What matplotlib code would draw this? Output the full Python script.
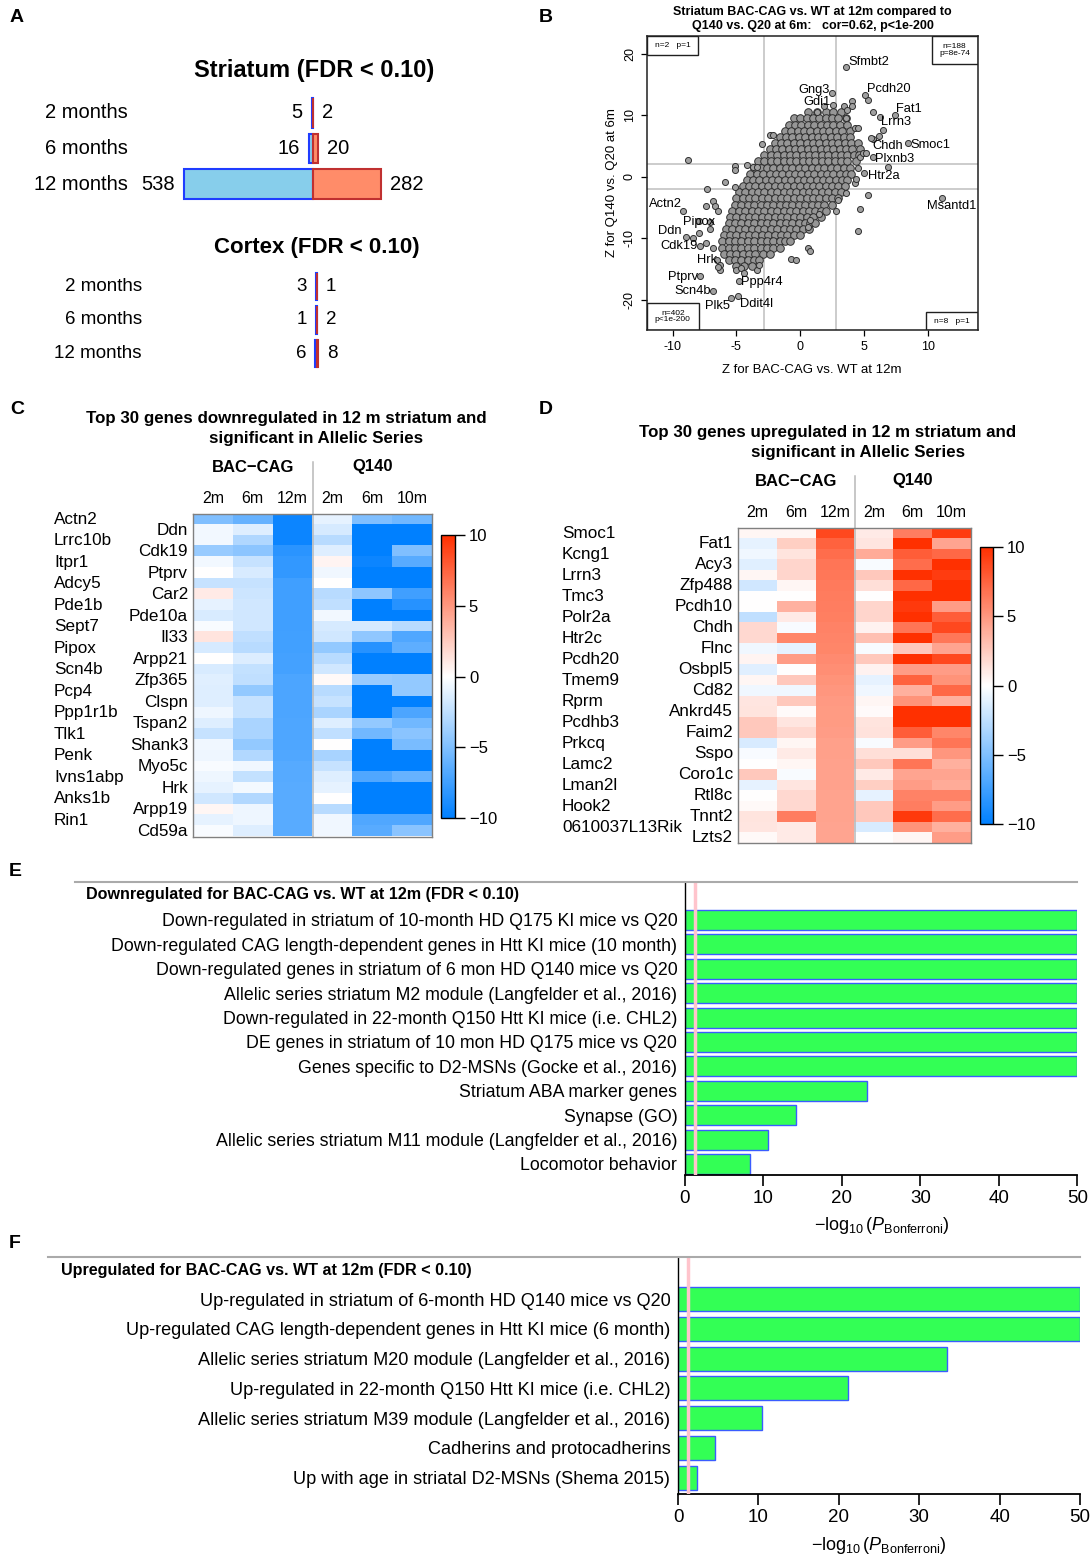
import numpy as np
import matplotlib
matplotlib.use('Agg')
import matplotlib.pyplot as plt
import matplotlib.transforms as mtransforms
from matplotlib.colors import LinearSegmentedColormap
from matplotlib.lines import Line2D
from matplotlib.patches import Rectangle

plt.rcParams['font.family'] = ['Liberation Sans', 'DejaVu Sans']
plt.rcParams['mathtext.fontset'] = 'custom'
plt.rcParams['mathtext.rm'] = 'Liberation Sans'
plt.rcParams['mathtext.it'] = 'Liberation Sans:italic'
plt.rcParams['mathtext.bf'] = 'Liberation Sans:bold'

# ---------------- data ----------------
# A: number of DE genes (down, up)
ages = ['2 months', '6 months', '12 months']
str_down = [5, 16, 538]
str_up = [2, 20, 282]
ctx_down = [3, 1, 6]
ctx_up = [1, 2, 8]

# B: Z scores, dense cloud read row by row (y: list of x)
cloud_rows = {
    10.5: [0.6, 1.3, 2.0, 2.6, 3.2],
    9.5: [-0.5, 0.0, 0.5, 1.0, 1.5, 2.0, 2.5, 3.0, 3.6],
    8.5: [-0.9, -0.4, 0.1, 0.6, 1.1, 1.6, 2.1, 2.6, 3.1, 3.7],
    7.5: [-1.2, -0.7, -0.2, 0.3, 0.8, 1.3, 1.8, 2.3, 2.8, 3.3, 3.9],
    6.5: [-1.6, -1.1, -0.6, -0.1, 0.4, 0.9, 1.4, 1.9, 2.4, 2.9, 3.4, 3.9],
    5.5: [-2.0, -1.5, -1.0, -0.5, 0.0, 0.5, 1.0, 1.5, 2.0, 2.5, 3.0, 3.5, 4.0, 4.5],
    4.5: [-2.4, -1.9, -1.4, -0.9, -0.4, 0.1, 0.6, 1.1, 1.6, 2.1, 2.6, 3.1, 3.6, 4.1, 4.7],
    3.5: [-2.8, -2.3, -1.8, -1.3, -0.8, -0.3, 0.2, 0.7, 1.2, 1.7, 2.2, 2.7, 3.2, 3.7, 4.2, 4.6],
    2.5: [-3.3, -2.8, -2.3, -1.8, -1.3, -0.8, -0.3, 0.2, 0.7, 1.2, 1.7, 2.2, 2.7, 3.2, 3.7, 4.4],
    1.5: [-3.6, -3.1, -2.6, -2.1, -1.6, -1.1, -0.6, -0.1, 0.4, 0.9, 1.4, 1.9, 2.4, 2.9, 3.4, 3.9],
    0.5: [-3.9, -3.4, -2.9, -2.4, -1.9, -1.4, -0.9, -0.4, 0.1, 0.6, 1.1, 1.6, 2.1, 2.6, 3.1, 3.6, 4.0],
    -0.5: [-4.2, -3.7, -3.2, -2.7, -2.2, -1.7, -1.2, -0.7, -0.2, 0.3, 0.8, 1.3, 1.8, 2.3, 2.8, 3.3, 3.7],
    -1.5: [-4.5, -4.0, -3.5, -3.0, -2.5, -2.0, -1.5, -1.0, -0.5, 0.0, 0.5, 1.0, 1.5, 2.0, 2.5, 3.0, 3.5],
    -2.5: [-4.8, -4.3, -3.8, -3.3, -2.8, -2.3, -1.8, -1.3, -0.8, -0.3, 0.2, 0.7, 1.2, 1.7, 2.2, 2.7, 3.2],
    -3.5: [-5.0, -4.5, -4.0, -3.5, -3.0, -2.5, -2.0, -1.5, -1.0, -0.5, 0.0, 0.5, 1.0, 1.5, 2.0, 2.5, 3.0],
    -4.5: [-5.1, -4.6, -4.1, -3.6, -3.1, -2.6, -2.1, -1.6, -1.1, -0.6, -0.1, 0.4, 0.9, 1.4, 1.9, 2.5],
    -5.5: [-5.3, -4.8, -4.3, -3.8, -3.3, -2.8, -2.3, -1.8, -1.3, -0.8, -0.3, 0.2, 0.7, 1.2, 1.6, 2.0],
    -6.5: [-5.5, -5.0, -4.5, -4.0, -3.5, -3.0, -2.5, -2.0, -1.5, -1.0, -0.5, 0.0, 0.5, 1.0, 1.6],
    -7.5: [-5.6, -5.1, -4.6, -4.1, -3.6, -3.1, -2.6, -2.1, -1.6, -1.1, -0.6, -0.1, 0.4, 0.8, 1.2],
    -8.5: [-5.8, -5.3, -4.8, -4.3, -3.8, -3.3, -2.8, -2.3, -1.8, -1.3, -0.8, -0.3, 0.2, 0.7],
    -9.5: [-6.0, -5.5, -5.0, -4.5, -4.0, -3.5, -3.0, -2.5, -2.0, -1.5, -1.0, -0.5, 0.0],
    -10.5: [-6.1, -5.6, -5.1, -4.6, -4.1, -3.6, -3.1, -2.6, -2.1, -1.6, -1.2, -0.8],
    -11.5: [-6.1, -5.6, -5.1, -4.6, -4.1, -3.6, -3.1, -2.6, -2.1, -1.6],
    -12.5: [-6.0, -5.5, -5.0, -4.5, -4.0, -3.5, -2.9, -2.4],
    -13.5: [-5.6, -5.1, -4.6, -4.1, -3.6, -3.2],
    -14.5: [-5.0, -4.4, -3.8],
}
extra_x = [-8.8, -5.1, -5.1, -4.2, -3.7, -7.3, -5.9, -5.1, -7.4, -6.8, -6.7, -6.4,
           -7.9, -7.1, -7.9, -8.4, -7.4, -6.8, -6.5, -6.3, -6.3, -5.0, -4.6, -4.4,
           -3.4, -3.2, -0.7, -0.3, 0.6, 0.75, 0.6, 0.75, 1.5, 2.8, 3.0, 3.6, 4.3,
           4.4, 4.7, 4.5, 5.3, 4.5, 4.7, 4.9, 5.2, 4.3, 4.5, 5.7, 6.2, 6.5, 6.9,
           4.1, 4.1, 3.4, 3.6, 3.7, 1.3, 1.9, -2.4, -2.1, -3.0, -3.4, 5.3, 5.7]
extra_y = [2.8, 1.8, 1.1, 1.9, 1.6, -2.0, -0.8, -1.6, -4.7, -4.0, -4.8, -5.6,
           -7.2, -7.3, -9.2, -10.0, -10.8, -11.6, -13.5, -14.3, -15.1, -15.1, -14.8, -15.7,
           -15.1, -14.3, -13.3, -13.5, -11.6, -12.1, -8.1, -7.0, -6.1, -5.6, -3.7, -2.6, -1.0,
           -0.3, -5.2, -8.8, -2.9, 1.5, 3.3, 3.9, 3.8, 7.9, 7.9, 6.2, 6.6, 7.6, 1.6,
           12.4, 11.6, 11.5, 9.6, 10.8, 10.6, 11.5, 6.8, 6.8, 5.4, 1.6, 12.5, 10.6]
gene_names = ['Sfmbt2', 'Gng3', 'Gdi1', 'Pcdh20', 'Fat1', 'Lrrn3', 'Chdh', 'Smoc1',
              'Plxnb3', 'Htr2a', 'Msantd1', 'Actn2', 'Pipox', 'Ddn', 'Cdk19', 'Hrk',
              'Ptprv', 'Scn4b', 'Plk5', 'Ddit4l', 'Ppp4r4']
gene_x = [3.59, 2.48, 2.59, 5.08, 7.43, 6.24, 5.52, 8.47, 5.72, 5.02, 11.14, -9.21,
          -7.07, -8.95, -7.85, -6.41, -7.81, -6.81, -5.42, -4.85, -4.79]
gene_y = [17.8, 13.6, 11.7, 13.3, 10.1, 9.7, 6.3, 5.5, 3.3, 0.6, -3.5, -5.6,
          -8.5, -9.8, -11.2, -14.7, -16.1, -18.6, -19.7, -19.4, -16.9]

# C / D heatmaps
hm_cols = ['2m', '6m', '12m', '2m', '6m', '10m']
down_genes = ['Actn2', 'Ddn', 'Lrrc10b', 'Cdk19', 'Itpr1', 'Ptprv', 'Adcy5', 'Car2',
              'Pde1b', 'Pde10a', 'Sept7', 'Il33', 'Pipox', 'Arpp21', 'Scn4b', 'Zfp365',
              'Pcp4', 'Clspn', 'Ppp1r1b', 'Tspan2', 'Tlk1', 'Shank3', 'Penk', 'Myo5c',
              'Ivns1abp', 'Hrk', 'Anks1b', 'Arpp19', 'Rin1', 'Cd59a']
down_vals = [
    [-5.0, -6.0, -9.5, -1.0, -5.0, -5.5],
    [-0.5, -1.3, -9.5, -1.6, -10, -10],
    [-0.5, -3.1, -9.5, -2.8, -10, -10],
    [-4.0, -4.5, -8.3, -1.3, -10, -5.0],
    [-0.5, -2.2, -8.0, 0.5, -9.5, -6.5],
    [0.0, -1.5, -8.0, -0.6, -10, -10],
    [-2.2, -2.2, -7.5, 0.0, -10, -10],
    [1.0, -2.0, -7.5, -2.8, -4.4, -7.5],
    [-1.0, -1.8, -7.5, -2.5, -10, -8.5],
    [-1.5, -1.8, -7.5, -0.5, -10, -10],
    [-0.3, -1.8, -7.5, -1.6, -1.6, -2.8],
    [1.3, -2.5, -7.4, -1.8, -4.3, -6.8],
    [-1.6, -2.8, -7.4, -4.2, -8.5, -6.3],
    [0.0, -1.4, -7.3, -2.8, -10, -10],
    [-1.5, -2.3, -7.3, -1.8, -10, -10],
    [-1.2, -2.5, -7.0, 0.3, -4.0, -4.2],
    [-1.3, -4.2, -7.0, -2.8, -10, -4.2],
    [-1.3, -2.2, -7.0, -2.2, -10, -10],
    [-0.7, -2.2, -7.0, -3.3, -10, -7.0],
    [-1.3, -3.3, -6.9, -1.3, -4.2, -5.5],
    [-2.2, -3.3, -6.9, -2.5, -5.5, -4.6],
    [-0.6, -4.2, -6.9, 0.0, -10, -5.2],
    [-0.7, -3.0, -6.8, -3.4, -10, -10],
    [-0.3, -0.6, -6.6, -2.2, -10, -10],
    [-0.7, -2.3, -6.6, -1.3, -6.8, -6.0],
    [-1.0, -0.4, -6.5, -1.0, -10, -10],
    [-1.8, -3.0, -6.5, 0.0, -10, -10],
    [0.4, -0.7, -6.5, -2.8, -10, -10],
    [-1.0, -0.7, -6.5, -0.6, -6.8, -6.8],
    [-0.3, -1.3, -6.5, -0.6, -6.5, -4.6],
]
up_genes = ['Smoc1', 'Fat1', 'Kcng1', 'Acy3', 'Lrrn3', 'Zfp488', 'Tmc3', 'Pcdh10',
            'Polr2a', 'Chdh', 'Htr2c', 'Flnc', 'Pcdh20', 'Osbpl5', 'Tmem9', 'Cd82',
            'Rprm', 'Ankrd45', 'Pcdhb3', 'Faim2', 'Prkcq', 'Sspo', 'Lamc2', 'Coro1c',
            'Lman2l', 'Rtl8c', 'Hook2', 'Tnnt2', '0610037L13Rik', 'Lzts2']
up_vals = [
    [0.4, 0.4, 8.8, 1.0, 6.2, 9.3],
    [-1.0, 2.3, 7.5, 1.2, 10, 4.3],
    [-0.6, 1.3, 7.0, 4.0, 7.8, 7.2],
    [-1.2, 2.0, 6.6, -0.3, 7.0, 10],
    [0.4, 2.0, 6.5, 2.6, 10, 9.3],
    [-1.8, 0.4, 6.4, 1.5, 7.2, 10],
    [0.0, 0.0, 6.3, 0.0, 10, 10],
    [0.0, 3.7, 6.2, 2.0, 9.5, 4.7],
    [-2.5, 1.0, 6.1, 2.0, 10, 7.8],
    [1.8, -0.3, 6.0, 0.6, 6.6, 8.8],
    [1.8, 5.8, 5.9, 3.0, 10, 6.5],
    [-0.6, -1.0, 5.8, -0.3, 2.6, 4.3],
    [0.5, 4.7, 5.6, 2.6, 10, 8.8],
    [-1.2, 0.0, 5.4, 0.6, 4.7, 4.7],
    [0.4, 2.6, 5.2, -1.0, 7.5, 5.2],
    [-0.6, -0.6, 5.0, -0.6, 3.8, 7.2],
    [1.2, 2.6, 4.9, 0.4, 5.2, 3.8],
    [1.3, 0.2, 4.8, 0.2, 10, 10],
    [2.6, 1.2, 4.8, 1.3, 10, 10],
    [2.6, 1.8, 4.7, 1.4, 7.8, 5.8],
    [-1.5, 0.4, 4.6, -0.3, 4.7, 6.6],
    [-0.3, 1.0, 4.6, 1.5, 1.5, 5.0],
    [0.0, 0.4, 4.5, 2.6, 6.6, 3.8],
    [2.6, -0.3, 4.5, 1.0, 4.3, 4.3],
    [-1.0, 1.2, 4.5, 2.3, 4.7, 4.0],
    [0.0, 1.8, 4.4, -1.0, 6.0, 6.0],
    [0.3, 1.8, 4.4, 2.6, 6.2, 4.7],
    [1.3, 6.2, 4.4, 2.6, 9.5, 7.0],
    [1.2, 1.0, 4.3, -1.5, 5.2, 3.8],
    [0.3, 1.0, 4.3, 0.0, 0.4, 4.7],
]

# E / F enrichment, -log10(P Bonferroni), capped at 50
down_sets = ['Down-regulated in striatum of 10-month HD Q175 KI mice vs Q20',
             'Down-regulated CAG length-dependent genes in Htt KI mice (10 month)',
             'Down-regulated genes in striatum of 6 mon HD Q140 mice vs Q20',
             'Allelic series striatum M2 module (Langfelder et al., 2016)',
             'Down-regulated in 22-month Q150 Htt KI mice (i.e. CHL2)',
             'DE genes in striatum of 10 mon HD Q175 mice vs Q20',
             'Genes specific to D2-MSNs (Gocke et al., 2016)',
             'Striatum ABA marker genes',
             'Synapse (GO)',
             'Allelic series striatum M11 module (Langfelder et al., 2016)',
             'Locomotor behavior']
down_logp = [50, 50, 50, 50, 50, 50, 50, 23.2, 14.1, 10.6, 8.3]
up_sets = ['Up-regulated in striatum of 6-month HD Q140 mice vs Q20',
           'Up-regulated CAG length-dependent genes in Htt KI mice (6 month)',
           'Allelic series striatum M20 module (Langfelder et al., 2016)',
           'Up-regulated in 22-month Q150 Htt KI mice (i.e. CHL2)',
           'Allelic series striatum M39 module (Langfelder et al., 2016)',
           'Cadherins and protocadherins',
           'Up with age in striatal D2-MSNs (Shema 2015)']
up_logp = [50, 50, 33.5, 21.2, 10.5, 4.6, 2.4]

# ---------------- figure ----------------
W, H = 1091, 1555
fig = plt.figure(figsize=(W / 100, H / 100), dpi=100)


def box(x0, y0, x1, y1):
    return [x0 / W, 1 - y1 / H, (x1 - x0) / W, (y1 - y0) / H]


def ftext(x, y, s, **kw):
    fig.text(x / W, 1 - y / H, s, **kw)


for lab, x, y in [('A', 17, 18), ('B', 546, 18), ('C', 17, 410), ('D', 546, 410),
                  ('E', 15, 872), ('F', 15, 1244)]:
    ftext(x, y, lab, fontsize=14, fontweight='bold', ha='center', va='center')

# ---- A ----
px_per_gene = 0.2405


def count_panel(y0, y1, split, down, up, label_right, fs):
    ax = fig.add_axes(box(0, y0, 540, y1))
    ax.set_xlim(-split / px_per_gene, (540 - split) / px_per_gene)
    ax.set_ylim(2.5, -0.5)
    ax.axis('off')
    pos = np.arange(len(ages))
    ax.barh(pos, [-d for d in down], height=0.82, color='#87CEEB', edgecolor='#1F3DFF', lw=1.5)
    ax.barh(pos, up, height=0.82, color='#FF8C69', edgecolor='#C03030', lw=1.5)
    off = 9 / px_per_gene
    for i in pos:
        ax.text(-down[i] - off, i, str(down[i]), ha='right', va='center', fontsize=fs)
        ax.text(up[i] + off, i, str(up[i]), ha='left', va='center', fontsize=fs)
        ax.text((label_right - split) / px_per_gene, i, ages[i], ha='right', va='center', fontsize=fs)


ftext(314, 71, 'Striatum (FDR < 0.10)', fontsize=17, fontweight='bold', ha='center', va='center')
count_panel(95.25, 201.75, 313, str_down, str_up, 128, 14.5)
ftext(317, 247, 'Cortex (FDR < 0.10)', fontsize=16, fontweight='bold', ha='center', va='center')
count_panel(269.75, 370.25, 316.5, ctx_down, ctx_up, 142, 13.5)

# ---- B ----
axb = fig.add_axes(box(647, 36, 977.5, 330))
axb.set_xlim(-12.0, 13.9)
axb.set_ylim(-24.9, 22.9)
for v in (-2.8, 2.8):
    axb.axvline(v, color='#C8C8C8', lw=1.3, zorder=1)
for v in (-2.05, 2.05):
    axb.axhline(v, color='#C8C8C8', lw=1.3, zorder=1)
core_x = [x for y, xs in cloud_rows.items() for x in xs]
core_y = [y for y, xs in cloud_rows.items() for x in xs]
axb.scatter(core_x, core_y, s=30, c='#969696', edgecolors='#2E2E2E', linewidths=0.7, zorder=2)
axb.scatter(extra_x + gene_x, extra_y + gene_y, s=19, c='#A0A0A0', edgecolors='#303030',
            linewidths=0.7, zorder=2)

label_pos = {
    'Sfmbt2': (2, 5, 'left'), 'Gng3': (-2, 3, 'right'), 'Gdi1': (-3, 3, 'right'),
    'Pcdh20': (2, 6, 'left'), 'Fat1': (1, 6, 'left'), 'Lrrn3': (1, -5, 'left'),
    'Chdh': (2, -8, 'left'), 'Smoc1': (2, -2, 'left'), 'Plxnb3': (2, -2, 'left'),
    'Htr2a': (4, -3, 'left'), 'Msantd1': (9, -8, 'center'), 'Actn2': (-1, 7, 'right'),
    'Pipox': (5, 7, 'right'), 'Ddn': (-4, 6, 'right'), 'Cdk19': (-2, 0, 'right'),
    'Hrk': (-1, 7, 'right'), 'Ptprv': (-2, -1, 'right'), 'Scn4b': (-2, 0, 'right'),
    'Plk5': (-1, -8, 'right'), 'Ddit4l': (2, -8, 'left'), 'Ppp4r4': (2, -1, 'left'),
}
for name, x, y in zip(gene_names, gene_x, gene_y):
    dx, dy, ha = label_pos[name]
    axb.annotate(name, (x, y), xytext=(dx, dy), textcoords='offset pixels',
                 ha=ha, va='center', fontsize=9.3, zorder=4)

axb.set_xticks([-10, -5, 0, 5, 10])
axb.set_xticklabels(['-10', '-5', '0', '5', '10'])
axb.set_yticks([-20, -10, 0, 10, 20])
axb.set_yticklabels(['-20', '-10', '0', '10', '20'], rotation=90, va='center')
axb.tick_params(length=4, width=0.9, labelsize=9, pad=4)
for s in axb.spines.values():
    s.set_linewidth(1.1)
    s.set_color('#202020')

corner = [((0, 0.935), 0.154, 0.065, 'n=2   p=1'),
          ((0.862, 0.905), 0.138, 0.095, 'n=188\np=8e-74'),
          ((0, 0), 0.156, 0.092, 'n=402\np<1e-200'),
          ((0.844, 0), 0.156, 0.061, 'n=8   p=1')]
for (x0, y0), w, h, s in corner:
    axb.add_patch(Rectangle((x0, y0), w, h, transform=axb.transAxes, fill=False,
                            lw=1.0, ec='#202020', zorder=5))
    axb.text(x0 + w / 2, y0 + h / 2, s, transform=axb.transAxes, ha='center', va='center',
             fontsize=6, linespacing=0.9, zorder=5)

ftext(812, 12, 'Striatum BAC-CAG vs. WT at 12m compared to', fontsize=9, fontweight='bold',
      ha='center', va='center')
ftext(813, 26, 'Q140 vs. Q20 at 6m:   cor=0.62, p<1e-200', fontsize=9, fontweight='bold',
      ha='center', va='center')
ftext(812, 370, 'Z for BAC-CAG vs. WT at 12m', fontsize=9.5, ha='center', va='center')
ftext(612, 183, 'Z for Q140 vs. Q20 at 6m', fontsize=9.5, ha='center', va='center', rotation=90)

# ---- C / D ----
cmap = LinearSegmentedColormap.from_list('bwr_r', ['#0080FF', '#FFFFFF', '#FF3000'])


def heatmap(rect, vals, genes, left_x, right_x, rowh, title1, title2, cbar_rect):
    x0, y0, x1, y1 = rect
    ax = fig.add_axes(box(*rect))
    im = ax.imshow(np.array(vals), cmap=cmap, vmin=-10, vmax=10, aspect='auto',
                   interpolation='nearest')
    ax.set_xticks([])
    ax.set_yticks([])
    for s in ax.spines.values():
        s.set_color('#808080')
        s.set_linewidth(1.0)

    def top_of(py):
        return -0.5 - (y0 - py) / rowh

    ax.plot([2.5, 2.5], [29.5, top_of(y0 - 52)], color='#B8B8B8', lw=1.1, clip_on=False)
    for j, c in enumerate(hm_cols):
        ax.text(j, top_of(y0 - 15.5), c, ha='center', va='center', fontsize=11.5)
    ax.text(1, top_of(y0 - 47), 'BAC\u2212CAG', ha='center', va='center', fontsize=12,
            fontweight='bold')
    ax.text(4, top_of(y0 - 47), 'Q140', ha='center', va='center', fontsize=12,
            fontweight='bold')
    tr = mtransforms.blended_transform_factory(fig.transFigure, ax.transData)
    for i, g in enumerate(genes):
        if i % 2 == 0:
            ax.text(left_x / W, i, g, transform=tr, ha='left', va='center', fontsize=12.3)
        else:
            ax.text(right_x / W, i, g, transform=tr, ha='right', va='center', fontsize=12.3)
    ax.set_xlim(-0.5, 5.5)
    ax.set_ylim(29.5, -0.5)
    ftext(*title1, fontsize=12.2, fontweight='bold', ha='center', va='center')
    ftext(*title2, fontsize=12.2, fontweight='bold', ha='center', va='center')
    cax = fig.add_axes(box(*cbar_rect))
    cb = fig.colorbar(im, cax=cax, ticks=[-10, -5, 0, 5, 10])
    cb.outline.set_linewidth(1.0)
    cax.tick_params(length=7, width=1, labelsize=12, pad=3)


heatmap((193, 514, 432, 836.5), down_vals, down_genes, 54, 188, 10.75,
        (286, 418, 'Top 30 genes downregulated in 12 m striatum and'),
        (316, 439, 'significant in Allelic Series'), (441, 535, 455, 818))
heatmap((738, 528, 971, 843), up_vals, up_genes, 562, 733, 10.5,
        (828, 433, 'Top 30 genes upregulated in 12 m striatum and'),
        (858, 453, 'significant in Allelic Series'), (980, 547, 993, 824))

# ---- E / F ----
xlab = r'$-\log_{10}(P_{\mathrm{Bonferroni}})$'


def enrich(rect, names, vals, step, barh_px, line_x0, title, title_xy, xlab_y, fs):
    x0, y0, x1, y1 = rect
    ax = fig.add_axes(box(*rect))
    pos = np.arange(len(names))
    ax.barh(pos, vals, height=barh_px / step, color='#33FF55', edgecolor='#3A5CFF', lw=1.0,
            zorder=2)
    ax.axvline(1.3, color='#FFC4CC', lw=2.5, zorder=3)
    ax.set_xlim(0, 50)
    first_px = {11: 920, 7: 1299}[len(names)]
    ax.set_ylim((y1 - first_px) / step, (y0 - first_px) / step)
    ax.set_yticks(pos)
    ax.set_yticklabels(names, fontsize=fs)
    ax.tick_params(axis='y', length=0, pad=5.5)
    ax.set_xticks([0, 10, 20, 30, 40, 50])
    ax.tick_params(axis='x', length=8, width=1.2, labelsize=13.5, pad=3)
    ax.spines['top'].set_visible(False)
    ax.spines['right'].set_visible(False)
    ax.spines['left'].set_linewidth(1.0)
    ax.spines['bottom'].set_linewidth(1.3)
    fig.add_artist(Line2D([line_x0 / W, x1 / W], [1 - y0 / H, 1 - y0 / H],
                          color='#AAAAAA', lw=1.5))
    ftext(*title_xy, title, fontsize=11.6, fontweight='bold', ha='left', va='center')
    ftext((x0 + x1) / 2, xlab_y, xlab, fontsize=13, ha='center', va='center')


enrich((685, 881.7, 1077.3, 1175), down_sets, down_logp, 24.4, 20, 75,
       'Downregulated for BAC-CAG vs. WT at 12m (FDR < 0.10)', (86, 895), 1225, 12.8)
enrich((678, 1257, 1080, 1494), up_sets, up_logp, 29.8, 24, 48,
       'Upregulated for BAC-CAG vs. WT at 12m (FDR < 0.10)', (61, 1271), 1545, 13.1)

fig.savefig('out.png', dpi=100)
